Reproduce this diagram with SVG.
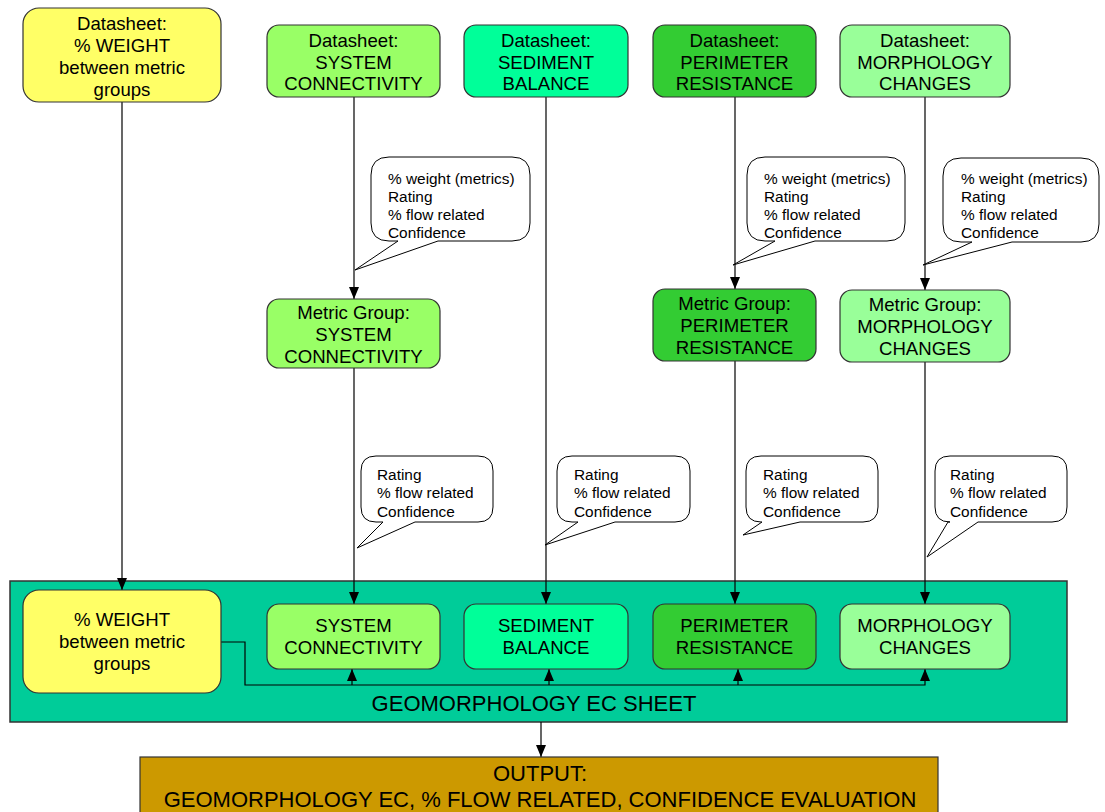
<svg xmlns="http://www.w3.org/2000/svg" width="1105" height="812" viewBox="0 0 1105 812">
  <style>
    .box { stroke: #333333; stroke-width: 1.2; }
    .t { font-family: "Liberation Sans", Arial, sans-serif; font-size: 18.6px; fill: #000; text-anchor: middle; }
    .big { font-family: "Liberation Sans", Arial, sans-serif; font-size: 22px; fill: #000; text-anchor: middle; }
    .note { font-family: "Liberation Sans", Arial, sans-serif; font-size: 15.4px; fill: #000; }
    .bubble { fill: #ffffff; stroke: #000; stroke-width: 1; }
    .link { fill: none; stroke: #000; stroke-width: 1.2; }
    .yellow { fill: #FFFF66; }
    .sys { fill: #99FF66; }
    .sed { fill: #00FF99; }
    .per { fill: #33CC33; }
    .mor { fill: #99FF99; }
  </style>
  <defs>
    <marker id="arrow" viewBox="0 0 12 10" refX="12" refY="5" markerWidth="12" markerHeight="10" markerUnits="userSpaceOnUse" orient="auto">
      <path d="M0,0 L12,5 L0,10 z" fill="#000"/>
    </marker>
  </defs>

  <rect width="1105" height="812" fill="#ffffff"/>

  <!-- container sheet -->
  <g id="ec-sheet">
    <rect x="10" y="581" width="1057" height="141" fill="#00CC99" stroke="#333333" stroke-width="1.5"/>
    <text class="big" x="534" y="711">GEOMORPHOLOGY EC SHEET</text>
  </g>

  <!-- connectors -->
  <g id="connectors">
    <path class="link" d="M122,102 V590" marker-end="url(#arrow)"/>
    <path class="link" d="M354,97 V299" marker-end="url(#arrow)"/>
    <path class="link" d="M354,368 V604" marker-end="url(#arrow)"/>
    <path class="link" d="M546,97 V604" marker-end="url(#arrow)"/>
    <path class="link" d="M735,97 V289" marker-end="url(#arrow)"/>
    <path class="link" d="M735,361 V604" marker-end="url(#arrow)"/>
    <path class="link" d="M925,97 V290" marker-end="url(#arrow)"/>
    <path class="link" d="M925,362 V604" marker-end="url(#arrow)"/>
    <path class="link" d="M221,642 H245 V685 H925 V669" marker-end="url(#arrow)"/>
    <path class="link" d="M352,685 V669" marker-end="url(#arrow)"/>
    <path class="link" d="M549,685 V669" marker-end="url(#arrow)"/>
    <path class="link" d="M738,685 V669" marker-end="url(#arrow)"/>
    <path class="link" d="M541,722 V757" marker-end="url(#arrow)"/>
  </g>

  <!-- source datasheets -->
  <g id="ds-weight">
    <rect class="box yellow" x="23" y="8" width="198" height="94" rx="16"/>
    <text class="t" x="122" y="30">Datasheet:</text>
    <text class="t" x="122" y="52">% WEIGHT</text>
    <text class="t" x="122" y="74">between metric</text>
    <text class="t" x="122" y="96">groups</text>
  </g>
  <g id="ds-system">
    <rect class="box sys" x="267" y="25" width="173" height="72" rx="12"/>
    <text class="t" x="353.5" y="47">Datasheet:</text>
    <text class="t" x="353.5" y="69">SYSTEM</text>
    <text class="t" x="353.5" y="90">CONNECTIVITY</text>
  </g>
  <g id="ds-sediment">
    <rect class="box sed" x="464" y="25" width="164" height="72" rx="12"/>
    <text class="t" x="546" y="47">Datasheet:</text>
    <text class="t" x="546" y="69">SEDIMENT</text>
    <text class="t" x="546" y="90">BALANCE</text>
  </g>
  <g id="ds-perimeter">
    <rect class="box per" x="653" y="25" width="163" height="72" rx="12"/>
    <text class="t" x="734.5" y="47">Datasheet:</text>
    <text class="t" x="734.5" y="69">PERIMETER</text>
    <text class="t" x="734.5" y="90">RESISTANCE</text>
  </g>
  <g id="ds-morphology">
    <rect class="box mor" x="840" y="25" width="170" height="72" rx="12"/>
    <text class="t" x="925" y="47">Datasheet:</text>
    <text class="t" x="925" y="69">MORPHOLOGY</text>
    <text class="t" x="925" y="90">CHANGES</text>
  </g>

  <!-- datasheet callouts -->
  <g id="note-system-ds">
    <path class="bubble" d="M398,241 L355,270 L438,241 H512 Q530,241 530,223 V175 Q530,157 512,157 H389 Q371,157 371,175 V223 Q371,241 389,241 Z"/>
    <text class="note" x="388" y="184">% weight (metrics)</text>
    <text class="note" x="388" y="202">Rating</text>
    <text class="note" x="388" y="220">% flow related</text>
    <text class="note" x="388" y="238">Confidence</text>
  </g>
  <g id="note-perimeter-ds">
    <path class="bubble" d="M775,241 L733,265 L815,241 H887 Q905,241 905,223 V175 Q905,157 887,157 H765 Q747,157 747,175 V223 Q747,241 765,241 Z"/>
    <text class="note" x="764" y="184">% weight (metrics)</text>
    <text class="note" x="764" y="202">Rating</text>
    <text class="note" x="764" y="220">% flow related</text>
    <text class="note" x="764" y="238">Confidence</text>
  </g>
  <g id="note-morphology-ds">
    <path class="bubble" d="M972,242 L923,265 L1012,242 H1081 Q1099,242 1099,224 V176 Q1099,158 1081,158 H961 Q943,158 943,176 V224 Q943,242 961,242 Z"/>
    <text class="note" x="961" y="184">% weight (metrics)</text>
    <text class="note" x="961" y="202">Rating</text>
    <text class="note" x="961" y="220">% flow related</text>
    <text class="note" x="961" y="238">Confidence</text>
  </g>

  <!-- metric groups -->
  <g id="mg-system">
    <rect class="box sys" x="267" y="299" width="173" height="69" rx="12"/>
    <text class="t" x="353.5" y="319">Metric Group:</text>
    <text class="t" x="353.5" y="341">SYSTEM</text>
    <text class="t" x="353.5" y="363">CONNECTIVITY</text>
  </g>
  <g id="mg-perimeter">
    <rect class="box per" x="653" y="289" width="163" height="72" rx="12"/>
    <text class="t" x="734.5" y="310">Metric Group:</text>
    <text class="t" x="734.5" y="332">PERIMETER</text>
    <text class="t" x="734.5" y="354">RESISTANCE</text>
  </g>
  <g id="mg-morphology">
    <rect class="box mor" x="840" y="290" width="170" height="72" rx="12"/>
    <text class="t" x="925" y="311">Metric Group:</text>
    <text class="t" x="925" y="333">MORPHOLOGY</text>
    <text class="t" x="925" y="355">CHANGES</text>
  </g>

  <!-- metric group callouts -->
  <g id="note-system-mg">
    <path class="bubble" d="M383,522 L357,548 L415,522 H478 Q493,522 493,507 V471 Q493,456 478,456 H376 Q361,456 361,471 V507 Q361,522 376,522 Z"/>
    <text class="note" x="377" y="480">Rating</text>
    <text class="note" x="377" y="498">% flow related</text>
    <text class="note" x="377" y="517">Confidence</text>
  </g>
  <g id="note-sediment">
    <path class="bubble" d="M578,522 L545,545 L615,522 H675 Q690,522 690,507 V471 Q690,456 675,456 H572 Q557,456 557,471 V507 Q557,522 572,522 Z"/>
    <text class="note" x="574" y="480">Rating</text>
    <text class="note" x="574" y="498">% flow related</text>
    <text class="note" x="574" y="517">Confidence</text>
  </g>
  <g id="note-perimeter-mg">
    <path class="bubble" d="M762,522 L743,535 L800,522 H863 Q878,522 878,507 V471 Q878,456 863,456 H761 Q746,456 746,471 V507 Q746,522 761,522 Z"/>
    <text class="note" x="763" y="480">Rating</text>
    <text class="note" x="763" y="498">% flow related</text>
    <text class="note" x="763" y="517">Confidence</text>
  </g>
  <g id="note-morphology-mg">
    <path class="bubble" d="M948,522 L927,557 L978,522 H1052 Q1067,522 1067,507 V471 Q1067,456 1052,456 H950 Q935,456 935,471 V507 Q935,522 950,522 Z"/>
    <text class="note" x="950" y="480">Rating</text>
    <text class="note" x="950" y="498">% flow related</text>
    <text class="note" x="950" y="517">Confidence</text>
  </g>

  <!-- sheet contents -->
  <g id="sheet-weight">
    <rect class="box yellow" x="23" y="590" width="198" height="103" rx="16"/>
    <text class="t" x="122" y="626">% WEIGHT</text>
    <text class="t" x="122" y="648">between metric</text>
    <text class="t" x="122" y="670">groups</text>
  </g>
  <g id="sheet-system">
    <rect class="box sys" x="267" y="604" width="173" height="65" rx="12"/>
    <text class="t" x="353.5" y="632">SYSTEM</text>
    <text class="t" x="353.5" y="654">CONNECTIVITY</text>
  </g>
  <g id="sheet-sediment">
    <rect class="box sed" x="464" y="604" width="164" height="65" rx="12"/>
    <text class="t" x="546" y="632">SEDIMENT</text>
    <text class="t" x="546" y="654">BALANCE</text>
  </g>
  <g id="sheet-perimeter">
    <rect class="box per" x="653" y="604" width="163" height="65" rx="12"/>
    <text class="t" x="734.5" y="632">PERIMETER</text>
    <text class="t" x="734.5" y="654">RESISTANCE</text>
  </g>
  <g id="sheet-morphology">
    <rect class="box mor" x="840" y="604" width="170" height="65" rx="12"/>
    <text class="t" x="925" y="632">MORPHOLOGY</text>
    <text class="t" x="925" y="654">CHANGES</text>
  </g>

  <!-- final output -->
  <g id="output">
    <rect x="140" y="757" width="798" height="70" fill="#CC9900" stroke="#333333" stroke-width="1.2"/>
    <text class="big" x="540" y="781">OUTPUT:</text>
    <text class="big" x="540" y="807">GEOMORPHOLOGY EC, % FLOW RELATED, CONFIDENCE EVALUATION</text>
  </g>
</svg>
